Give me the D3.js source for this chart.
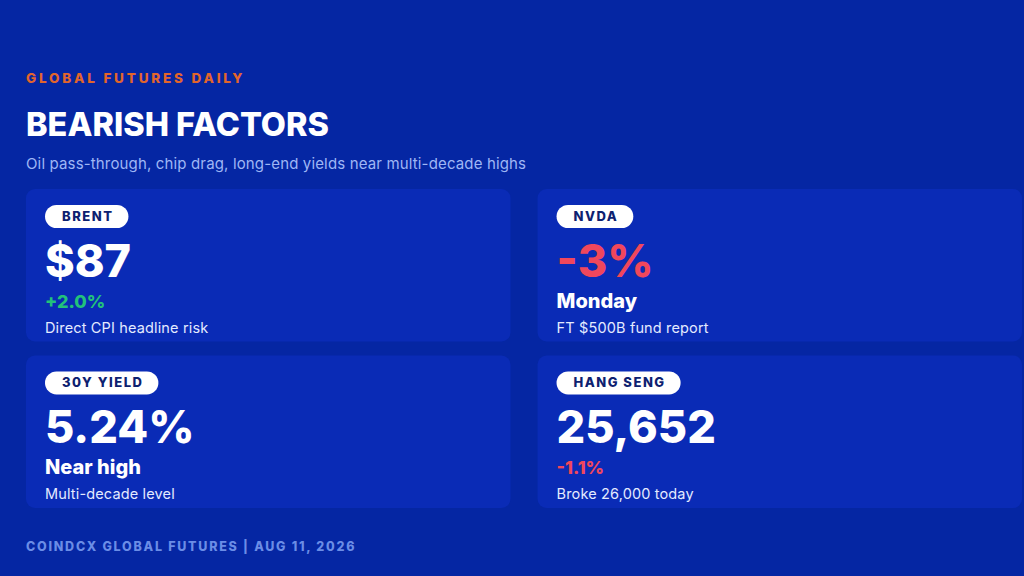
<!DOCTYPE html>
<html lang="en">
<head>
<meta charset="UTF-8">
<script src="https://d3js.org/d3.v7.min.js"></script>
<title>Bearish Factors</title>
<style>
html, body {
    margin: 0;
    padding: 0;
    background-color: #0526a3;
}
svg {
    display: block;
}
text {
    font-family: 'Inter', 'Noto Sans', sans-serif;
}
</style>
</head>
<body>
<svg id='canvas'></svg>
<script>
// card contents, read left-to-right, top-to-bottom
let labels = ['BRENT', 'NVDA', '30Y YIELD', 'HANG SENG']
let values = ['$87', '-3%', '5.24%', '25,652']
let notes = ['+2.0%', 'Monday', 'Near high', '-1.1%']
let details = ['Direct CPI headline risk', 'FT $500B fund report', 'Multi-decade level', 'Broke 26,000 today']

let kicker = 'GLOBAL FUTURES DAILY'
let title = 'BEARISH FACTORS'
let subtitle = 'Oil pass-through, chip drag, long-end yields near multi-decade highs'
let footer = 'COINDCX GLOBAL FUTURES | AUG 11, 2026'

let width = 1024
let height = 576

let svg = d3.select('#canvas')
    .attr('width', width)
    .attr('height', height)

svg.append('rect')
    .attr('width', width)
    .attr('height', height)
    .attr('fill', '#0526a3')

let signColor = (s) => {
    if (s[0] === '+') return '#22c27a'
    if (s[0] === '-') return '#f0475c'
    return '#ffffff'
}

// header
svg.append('text')
    .attr('x', 26).attr('y', 83)
    .attr('fill', '#e2652c')
    .attr('font-size', 13.5)
    .attr('font-weight', 800)
    .attr('letter-spacing', 2.8)
    .text(kicker)

svg.append('text')
    .attr('x', 26).attr('y', 136)
    .attr('fill', '#ffffff')
    .attr('font-size', 32.5)
    .attr('font-weight', 800)
    .text(title)

svg.append('text')
    .attr('x', 26).attr('y', 169)
    .attr('fill', '#9fb6f5')
    .attr('font-size', 15)
    .attr('letter-spacing', 0.15)
    .text(subtitle)

// grid of cards
let xScale = d3.scaleBand()
    .domain([0, 1])
    .range([26, 1022])
    .paddingInner(0.053)

let yScale = d3.scaleBand()
    .domain([0, 1])
    .range([189, 508])
    .paddingInner(0.084)

let cards = svg.selectAll('g.card')
    .data(labels)
    .enter()
    .append('g')
    .attr('class', 'card')
    .attr('transform', (d, i) => 'translate(' + xScale(i % 2) + ',' + yScale(Math.floor(i / 2)) + ')')

cards.append('rect')
    .attr('width', xScale.bandwidth())
    .attr('height', yScale.bandwidth())
    .attr('rx', 9)
    .attr('fill', '#0a2bb6')

let pills = cards.append('g')
    .attr('transform', 'translate(19, 16)')

let pillRect = pills.append('rect')
    .attr('height', 23)
    .attr('rx', 11.5)
    .attr('fill', '#ffffff')

let pillText = pills.append('text')
    .attr('x', 17).attr('y', 16)
    .attr('fill', '#0d2170')
    .attr('font-size', 13)
    .attr('font-weight', 800)
    .attr('letter-spacing', 1.5)
    .text((d) => d)

pillText.each(function (d, i) {
    let w = this.getComputedTextLength() + 32
    d3.select(pillRect.nodes()[i]).attr('width', w)
})

cards.append('text')
    .attr('x', 19).attr('y', 88)
    .attr('fill', (d, i) => signColor(values[i]))
    .attr('font-size', 45)
    .attr('font-weight', 800)
    .text((d, i) => values[i])

cards.append('text')
    .attr('x', 19).attr('y', 119)
    .attr('fill', (d, i) => signColor(notes[i]))
    .attr('font-size', (d, i) => /^[+-]/.test(notes[i]) ? 18 : 20)
    .attr('font-weight', 800)
    .text((d, i) => notes[i])

cards.append('text')
    .attr('x', 19).attr('y', 144)
    .attr('fill', '#e4eaff')
    .attr('font-size', 14.5)
    .attr('letter-spacing', 0.15)
    .text((d, i) => details[i])

// footer
svg.append('text')
    .attr('x', 26).attr('y', 551)
    .attr('fill', '#6b8de6')
    .attr('font-size', 12.5)
    .attr('font-weight', 800)
    .attr('letter-spacing', 1.75)
    .text(footer)
</script>
</body>
</html>
